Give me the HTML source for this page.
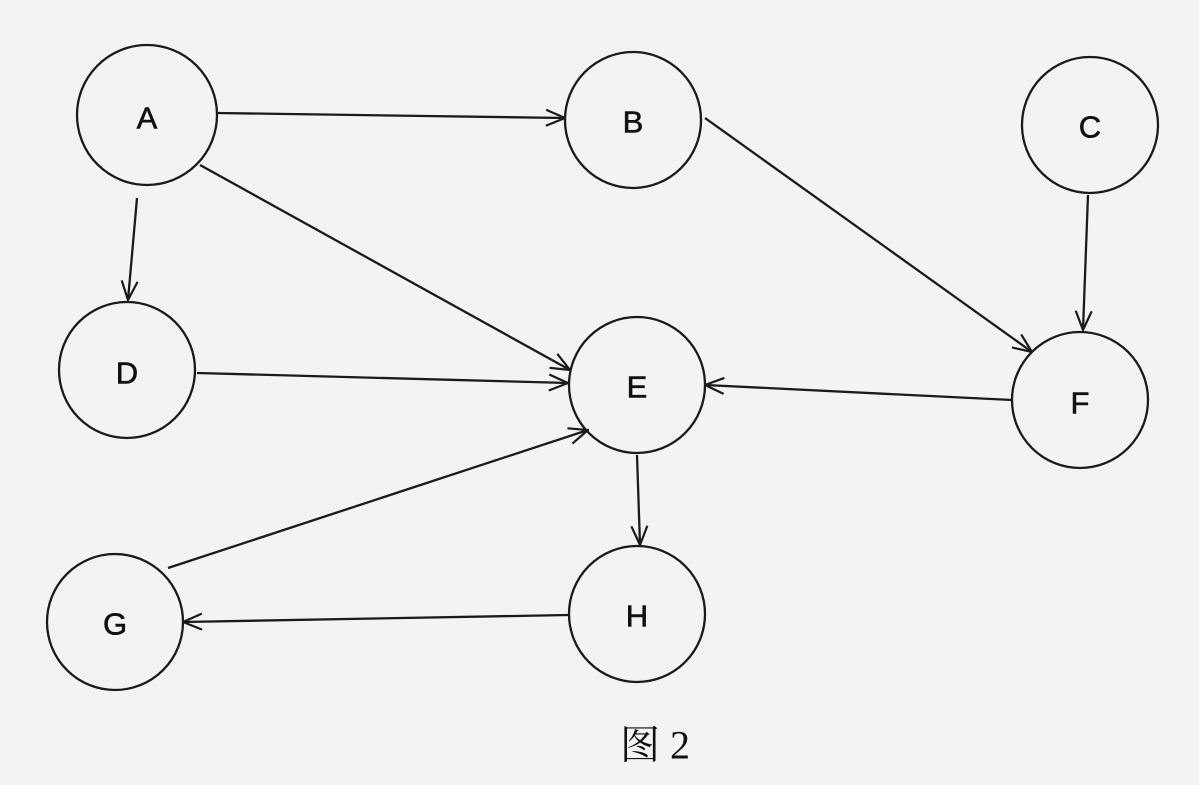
<!DOCTYPE html>
<html><head><meta charset="utf-8"><style>
html,body{margin:0;padding:0;background:#f3f3f1;}
svg{display:block}
text{font-family:"Liberation Sans","DejaVu Sans",sans-serif;font-size:31px;fill:#111;text-anchor:middle;dominant-baseline:central;stroke:#111;stroke-width:0.6}
</style></head><body>
<svg width="1199" height="785" viewBox="0 0 1199 785">
<defs><marker id="a" viewBox="0 0 22 22" refX="21" refY="11" markerWidth="22" markerHeight="22" markerUnits="userSpaceOnUse" orient="auto"><path d="M2,3 L21,11 L2,19" fill="none" stroke="#1a1a1a" stroke-width="2.2"/></marker></defs>
<g fill="none" stroke="#1a1a1a" stroke-width="2.3">
<circle cx="147" cy="115" r="70"/>
<circle cx="633" cy="120" r="68"/>
<circle cx="1090" cy="125" r="68"/>
<circle cx="127" cy="370" r="68"/>
<circle cx="637" cy="385" r="68"/>
<circle cx="1080" cy="400" r="68"/>
<circle cx="115" cy="622" r="68"/>
<circle cx="637" cy="614" r="68"/>
<g marker-end="url(#a)">
<line x1="217" y1="113" x2="565" y2="118"/>
<line x1="200" y1="165" x2="570" y2="370"/>
<line x1="137" y1="198" x2="128" y2="300"/>
<line x1="705" y1="118" x2="1032" y2="352"/>
<line x1="1088" y1="195" x2="1083" y2="330"/>
<line x1="1012" y1="400" x2="705" y2="385"/>
<line x1="197" y1="373" x2="568" y2="383"/>
<line x1="168" y1="568" x2="588" y2="430"/>
<line x1="637" y1="455" x2="640" y2="545"/>
<line x1="568" y1="615" x2="183" y2="622"/>
</g></g>
<text x="147" y="118">A</text>
<text x="633" y="122">B</text>
<text x="1090" y="127">C</text>
<text x="127" y="373">D</text>
<text x="637" y="387">E</text>
<text x="1080" y="403">F</text>
<text x="115" y="624">G</text>
<text x="637" y="616">H</text>
<text x="655" y="745" style="font-family:'Liberation Serif','Noto Serif CJK SC',serif;font-size:40px;stroke-width:0">图 2</text>
</svg>
</body></html>
